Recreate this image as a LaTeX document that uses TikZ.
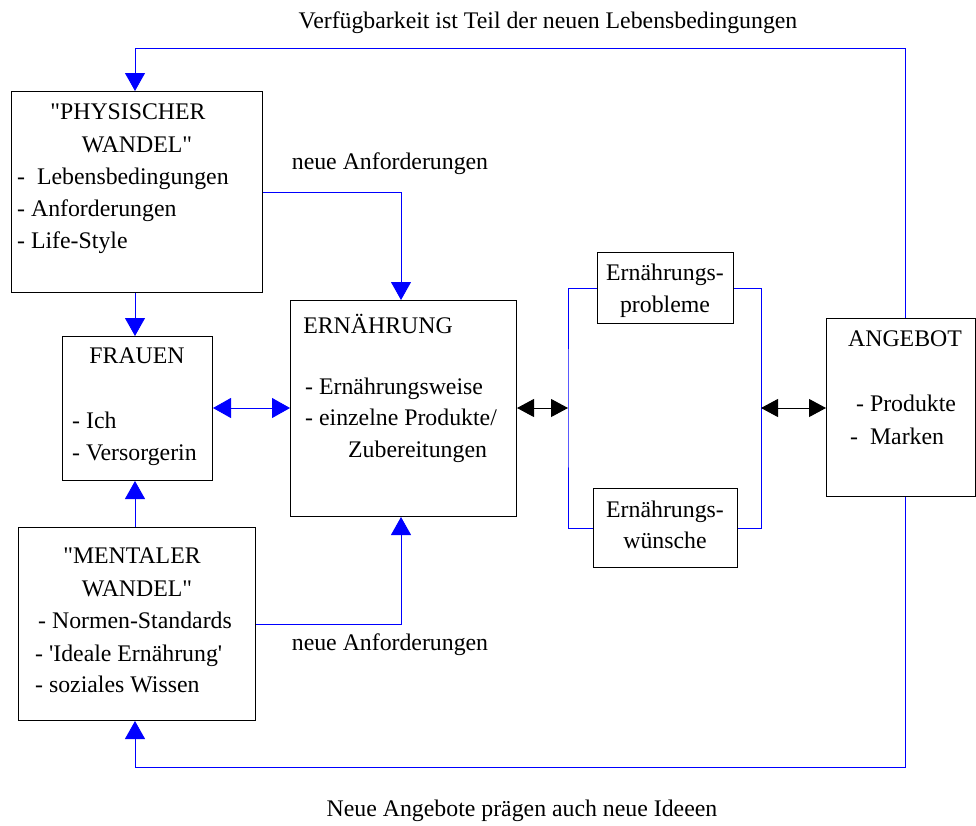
\documentclass[tikz,border=0pt]{standalone}
\usepackage{fontspec}
\newfontfamily\dfont{Liberation Serif}
\usetikzlibrary{arrows.meta}
\begin{document}
\begin{tikzpicture}[x=1pt,y=-1pt,
  box/.style={draw=black,line width=1pt,inner sep=0pt,anchor=north west},
  txt/.style={inner sep=0pt,font=\dfont\fontsize{23.8}{32}\selectfont},
  link/.style={draw=blue,line width=0.9pt},
  btip/.style={-{Triangle[length=18pt,width=20pt]}},
  bboth/.style={{Triangle[length=18pt,width=20pt]}-{Triangle[length=18pt,width=20pt]}},
  kboth/.style={draw=black,line width=1pt,{Triangle[length=17pt,width=18pt]}-{Triangle[length=17pt,width=18pt]}}]
\useasboundingbox (0,0) rectangle (976,825);
% boxes
\node[box,minimum width=251pt,minimum height=201pt] (phys) at (11,91) {};
\node[box,minimum width=150pt,minimum height=144pt] (frau) at (62,336) {};
\node[box,minimum width=237pt,minimum height=193pt] (ment) at (18,527) {};
\node[box,minimum width=226pt,minimum height=216pt] (ern) at (290,300) {};
\node[box,minimum width=136pt,minimum height=71pt] (prob) at (597,252) {};
\node[box,minimum width=144pt,minimum height=79pt] (wun) at (593,488) {};
\node[box,minimum width=149pt,minimum height=178pt] (ang) at (826,318) {};
% texts
\node[txt,anchor=base] (p1) at (128,119) {"PHYSISCHER};
\node[txt,anchor=base] (p2) at (137,152) {WANDEL"};
\node[txt,anchor=base west] (p3) at (17,184) {-\ \ Lebensbedingungen};
\node[txt,anchor=base west] (p4) at (17,216) {- Anforderungen};
\node[txt,anchor=base west] (p5) at (17,248) {- Life-Style};
\node[txt,anchor=base] (f1) at (137,363) {FRAUEN};
\node[txt,anchor=base west] (f2) at (72,428) {- Ich};
\node[txt,anchor=base west] (f3) at (72,460) {- Versorgerin};
\node[txt,anchor=base] (m1) at (132,563) {"MENTALER};
\node[txt,anchor=base] (m2) at (137,596) {WANDEL"};
\node[txt,anchor=base west] (m3) at (38,628) {- Normen-Standards};
\node[txt,anchor=base west] (m4) at (35,661) {- 'Ideale Ernährung'};
\node[txt,anchor=base west] (m5) at (35,692) {- soziales Wissen};
\node[txt,anchor=base] (e1) at (378,333) {ERNÄHRUNG};
\node[txt,anchor=base west] (e2) at (305,394) {- Ernährungsweise};
\node[txt,anchor=base west] (e3) at (305,425) {- einzelne Produkte/};
\node[txt,anchor=base west] (e4) at (348,457) {Zubereitungen};
\node[txt,anchor=base] (pr1) at (665,280) {Ernährungs-};
\node[txt,anchor=base] (pr2) at (665,312) {probleme};
\node[txt,anchor=base] (w1) at (665,517) {Ernährungs-};
\node[txt,anchor=base] (w2) at (665,548) {wünsche};
\node[txt,anchor=base] (a1) at (905,346) {ANGEBOT};
\node[txt,anchor=base west] (a2) at (856,411) {- Produkte};
\node[txt,anchor=base west] (a3) at (850,444) {-\ \ Marken};
\node[txt,anchor=base] (l1) at (548,28) {Verfügbarkeit ist Teil der neuen Lebensbedingungen};
\node[txt,anchor=base] (l2) at (390,169) {neue Anforderungen};
\node[txt,anchor=base] (l3) at (390,650) {neue Anforderungen};
\node[txt,anchor=base] (l4) at (522,816) {Neue Angebote prägen auch neue Ideeen};
% helper coordinates
\coordinate (tr) at (905,48);
\coordinate (tl) at (135,48);
\coordinate (brr) at (905,767);
\coordinate (bll) at (135,767);
\coordinate (c1) at (401,192);
\coordinate (c2) at (401,624);
\coordinate (colx) at (135,408);
\coordinate (bl) at (568,408);
\coordinate (br) at (761,408);
% connectors
\draw[link,btip] (ang.north -| tr) -- (tr) -- (tl) -- (tl |- phys.north);
\draw[link,btip] (ang.south -| brr) -- (brr) -- (bll) -- (bll |- ment.south);
\draw[link,btip] (phys.east |- c1) -- (c1) -- (c1 |- ern.north);
\draw[link,btip] (ment.east |- c2) -- (c2) -- (c2 |- ern.south);
\draw[link,btip] (phys.south -| colx) -- (frau.north -| colx);
\draw[link,btip] (ment.north -| colx) -- (frau.south -| colx);
\draw[link,bboth] (frau.east |- colx) -- (ern.west |- colx);
\draw[link] (prob.west) -| (bl) |- (wun.west);
\draw[link] (prob.east) -| (br) |- (wun.east);
\draw[kboth] (ern.east |- bl) -- (bl);
\draw[kboth] (br) -- (ang.west |- br);
\end{tikzpicture}
\end{document}
